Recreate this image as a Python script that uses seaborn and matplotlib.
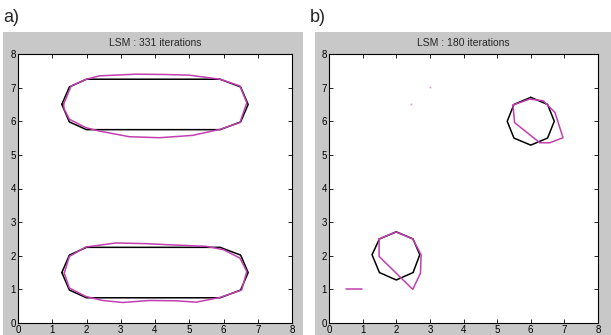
import numpy as np
import pandas as pd
import matplotlib
matplotlib.use("Agg")
import matplotlib.pyplot as plt
import seaborn as sns
from matplotlib.patches import Rectangle

# ---------------- data ----------------
titles = ["LSM : 331 iterations", "LSM : 180 iterations"]
panel_labels = ["a)", "b)"]
ticks = [0, 1, 2, 3, 4, 5, 6, 7, 8]

# panel a: target (black) shapes
a_top_black_x = [1.28, 1.5, 2.0, 5.9, 6.5, 6.72, 6.5, 5.9, 2.0, 1.5]
a_top_black_y = [6.5, 7.02, 7.25, 7.25, 7.02, 6.5, 5.98, 5.75, 5.75, 5.98]
a_bot_black_x = [1.28, 1.5, 2.0, 5.9, 6.5, 6.72, 6.5, 5.9, 2.0, 1.5]
a_bot_black_y = [1.5, 2.02, 2.25, 2.25, 2.02, 1.5, 0.98, 0.75, 0.75, 0.98]

# panel a: LSM result (purple) contours
a_top_purple_x = [1.33, 1.55, 2.0, 2.38, 3.45, 4.3, 5.01, 5.9, 6.48, 6.68, 6.48, 5.9,
                  5.1, 4.13, 3.25, 2.37, 1.98, 1.5, 1.35]
a_top_purple_y = [6.5, 7.05, 7.25, 7.35, 7.40, 7.39, 7.37, 7.25, 7.05, 6.55, 5.96, 5.76,
                  5.58, 5.51, 5.54, 5.71, 5.81, 6.06, 6.36]
a_bot_purple_x = [1.35, 1.5, 1.98, 2.86, 3.74, 4.33, 5.5, 6.0, 6.48, 6.68, 6.53, 5.9,
                  5.2, 4.62, 3.84, 3.06, 2.47, 1.98, 1.5]
a_bot_purple_y = [1.48, 1.98, 2.26, 2.38, 2.36, 2.33, 2.28, 2.18, 1.93, 1.53, 0.98, 0.76,
                  0.62, 0.66, 0.67, 0.61, 0.67, 0.79, 1.04]

# panel b: target (black) circles
b_c1_black_x = [6.0, 6.5, 6.7, 6.5, 6.0, 5.5, 5.3, 5.5]
b_c1_black_y = [6.71, 6.5, 6.0, 5.5, 5.29, 5.5, 6.0, 6.5]
b_c2_black_x = [2.0, 2.5, 2.7, 2.5, 2.0, 1.5, 1.28, 1.5]
b_c2_black_y = [2.71, 2.5, 2.03, 1.5, 1.28, 1.5, 2.03, 2.5]

# panel b: LSM result (purple) contours
b_c1_purple_x = [5.47, 5.97, 6.37, 6.72, 6.96, 6.57, 6.27, 5.52]
b_c1_purple_y = [6.48, 6.66, 6.61, 6.26, 5.51, 5.36, 5.36, 5.96]
b_c2_purple_x = [1.49, 1.99, 2.49, 2.74, 2.72, 2.49, 1.49]
b_c2_purple_y = [2.5, 2.71, 2.5, 2.03, 1.48, 1.0, 1.98]
b_seg_purple_x = [0.5, 0.98]
b_seg_purple_y = [1.0, 1.0]
b_dots_x = [2.45, 2.99]
b_dots_y = [6.52, 7.02]

PURPLE = "#c23fb0"
GRAY = "#c8c8c8"

sns.set_style("white")
plt.rcParams["font.family"] = ["Liberation Sans", "DejaVu Sans"]

fig = plt.figure(figsize=(6.11, 3.35), dpi=100)
W, H = 611.0, 335.0

# gray panel backgrounds
fig.patches.append(Rectangle((3 / W, 0), 300 / W, 303 / H, transform=fig.transFigure,
                             facecolor=GRAY, edgecolor="none", zorder=-5))
fig.patches.append(Rectangle((315 / W, 0), 296 / W, 303 / H, transform=fig.transFigure,
                             facecolor=GRAY, edgecolor="none", zorder=-5))

axA = fig.add_axes([18 / W, 12 / H, 274 / W, 269 / H])
axB = fig.add_axes([329 / W, 12 / H, 269 / W, 269 / H])
axA.set_zorder(2)
axB.set_zorder(2)


def closed(xs, ys):
    return list(xs) + [xs[0]], list(ys) + [ys[0]]


def draw(ax, xs, ys, color, close=True, lw=1.1):
    if close:
        xs, ys = closed(xs, ys)
    df = pd.DataFrame({"x": xs, "y": ys})
    sns.lineplot(data=df, x="x", y="y", sort=False, estimator=None, ax=ax,
                 color=color, linewidth=lw)


draw(axA, a_top_black_x, a_top_black_y, "black")
draw(axA, a_bot_black_x, a_bot_black_y, "black")
draw(axA, a_top_purple_x, a_top_purple_y, PURPLE)
draw(axA, a_bot_purple_x, a_bot_purple_y, PURPLE)

draw(axB, b_c1_black_x, b_c1_black_y, "black")
draw(axB, b_c2_black_x, b_c2_black_y, "black")
draw(axB, b_c1_purple_x, b_c1_purple_y, PURPLE)
draw(axB, b_c2_purple_x, b_c2_purple_y, PURPLE)
draw(axB, b_seg_purple_x, b_seg_purple_y, PURPLE, close=False)
sns.scatterplot(x=b_dots_x, y=b_dots_y, ax=axB, color="#d9a0d0", s=2, linewidth=0)

for ax, t in zip([axA, axB], titles):
    ax.set_xlim(0, 8)
    ax.set_ylim(0, 8)
    ax.set_xticks(ticks)
    ax.set_yticks(ticks)
    ax.set_xlabel("")
    ax.set_ylabel("")
    ax.set_facecolor("white")
    for s in ax.spines.values():
        s.set_visible(True)
        s.set_color("black")
        s.set_linewidth(0.8)
    ax.tick_params(direction="in", length=3, width=0.6, top=True, right=True,
                   bottom=True, left=True, labelsize=7, pad=1.5, colors="black")
    ax.set_title(t, fontsize=7.5, pad=6)

fig.text(3 / W, 1 - 18 / H, panel_labels[0], fontsize=13, va="center", ha="left")
fig.text(310 / W, 1 - 18 / H, panel_labels[1], fontsize=13, va="center", ha="left")

fig.savefig("out.png", dpi=100)
